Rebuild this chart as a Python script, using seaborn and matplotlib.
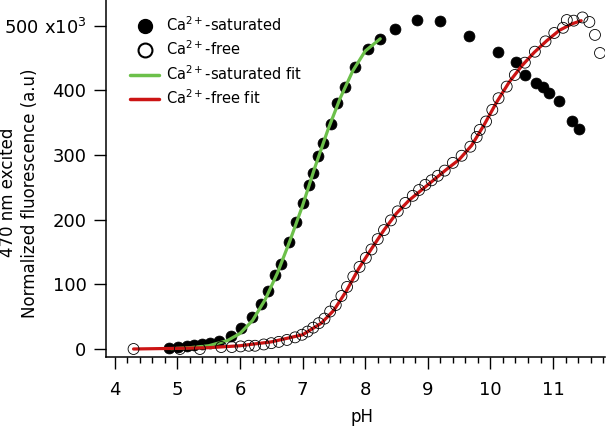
import numpy as np
import pandas as pd
import seaborn as sns
import matplotlib.pyplot as plt
from matplotlib.lines import Line2D
from matplotlib.ticker import MultipleLocator

# Ca2+-saturated measurements (pH, fluorescence x1e3)
sat_ph = [4.87, 5.01, 5.15, 5.27, 5.39, 5.52, 5.67, 5.85, 6.02, 6.19, 6.33, 6.45,
          6.56, 6.65, 6.78, 6.90, 7.01, 7.10, 7.17, 7.25, 7.33, 7.46, 7.55, 7.67,
          7.84, 8.04, 8.24, 8.47, 8.83, 9.20, 9.66, 10.12, 10.41, 10.55, 10.72,
          10.84, 10.94, 11.09, 11.30, 11.42]
sat_val = [2, 3.5, 5, 6, 8, 9, 13, 20, 32, 50, 69, 90,
           114, 131, 166, 197, 226, 254, 273, 298, 319, 348, 380, 405,
           437, 464, 480, 495, 509, 508, 484, 459, 444, 424, 412,
           405, 396, 384, 352, 340]

# Ca2+-free measurements
free_ph = [4.30, 5.04, 5.36, 5.70, 5.87, 6.01, 6.14, 6.24, 6.38, 6.50, 6.62, 6.75,
           6.88, 6.99, 7.08, 7.17, 7.26, 7.35, 7.44, 7.53, 7.62, 7.71, 7.81, 7.91,
           8.01, 8.10, 8.20, 8.30, 8.41, 8.52, 8.64, 8.76, 8.86, 8.96, 9.06, 9.16,
           9.27, 9.40, 9.54, 9.68, 9.78, 9.83, 9.93, 10.03, 10.13, 10.26, 10.39,
           10.55, 10.71, 10.88, 11.02, 11.16, 11.22, 11.33, 11.47, 11.58, 11.67, 11.75]
free_val = [0, 0, 0, 3, 3, 4, 5, 5, 7, 9, 11, 14,
            18, 22, 27, 33, 40, 47, 58, 68, 82, 96, 112, 127,
            141, 154, 170, 184, 199, 213, 226, 237, 246, 254, 261, 268,
            276, 288, 299, 313, 328, 339, 352, 370, 388, 406, 424,
            443, 460, 476, 489, 497, 509, 508, 513, 506, 486, 458]

# fit curves
sat_fit_ph = [4.90, 5.20, 5.50, 5.80, 6.00, 6.20, 6.40, 6.60, 6.80, 7.00, 7.20,
              7.40, 7.60, 7.80, 8.00, 8.24]
sat_fit_val = [0.5, 2, 5, 13, 24, 44, 76, 118, 168, 222, 282,
               338, 388, 430, 461, 480]

free_fit_ph = [4.30, 5.00, 5.50, 6.00, 6.50, 7.00, 7.30, 7.50, 7.70, 7.90, 8.10,
               8.30, 8.50, 8.70, 8.90, 9.10, 9.30, 9.50, 9.70, 9.90, 10.10, 10.30,
               10.50, 10.70, 10.90, 11.10, 11.30, 11.45]
free_fit_val = [0, 1, 2, 5, 11, 22, 40, 60, 90, 125, 155,
                184, 210, 230, 246, 262, 278, 293, 315, 347, 382, 413,
                438, 459, 477, 493, 503, 508]

green = '#6cc04a'
red = '#cc1414'

sns.set_style('ticks')
plt.rcParams['font.family'] = ['DejaVu Sans']
plt.rcParams['mathtext.default'] = 'regular'
for k in ['text.color', 'axes.labelcolor', 'xtick.color', 'ytick.color', 'axes.edgecolor']:
    plt.rcParams[k] = 'black'

fig = plt.figure(figsize=(6.1, 4.26), dpi=100)
ax = fig.add_axes([106 / 610, 69 / 426, 499 / 610, 357 / 426])

sns.lineplot(x=sat_fit_ph, y=sat_fit_val, ax=ax, color=green, lw=2.3,
             sort=False, estimator=None, zorder=2)
sns.lineplot(x=free_fit_ph, y=free_fit_val, ax=ax, color=red, lw=2.3,
             sort=False, estimator=None, zorder=2)
sns.scatterplot(x=sat_ph, y=sat_val, ax=ax, color='black', s=62,
                edgecolor='black', linewidth=0.5, zorder=1)
sns.scatterplot(x=free_ph, y=free_val, ax=ax, facecolor='none', s=62,
                edgecolor='black', linewidth=0.6, zorder=3)

ax.set_xlim(3.86, 11.83)
ax.set_ylim(-12.4, 540)
ax.xaxis.set_major_locator(MultipleLocator(1))
ax.xaxis.set_minor_locator(MultipleLocator(0.2))
ax.set_yticks([0, 100, 200, 300, 400, 500])
ax.set_yticklabels(['0', '100', '200', '300', '400', '500 x10$^3$'])
ax.tick_params(axis='x', which='major', length=8.5, width=1, pad=9, labelsize=13, direction='out')
ax.tick_params(axis='x', which='minor', length=4.3, width=1, direction='out')
ax.tick_params(axis='y', which='major', length=9, width=1, pad=5, labelsize=13, direction='out')
for s in ['left', 'bottom']:
    ax.spines[s].set_linewidth(1.1)
sns.despine(ax=ax)

ax.set_xlabel('pH', fontsize=12)
ax.xaxis.set_label_coords(0.513, -0.142)
ax.set_ylabel('470 nm excited\nNormalized fluorescence (a.u)', fontsize=12, linespacing=1.25)
ax.yaxis.set_label_coords(-0.135, 0.46)

handles = [
    Line2D([], [], ls='none', marker='o', ms=10, color='black'),
    Line2D([], [], ls='none', marker='o', ms=10, mfc='white', mec='black', mew=1.5),
    Line2D([], [], color=green, lw=2.5),
    Line2D([], [], color=red, lw=2.5),
]
labels = ['Ca$^{2+}$-saturated', 'Ca$^{2+}$-free', 'Ca$^{2+}$-saturated fit', 'Ca$^{2+}$-free fit']
fig.legend(handles, labels, loc='upper left', bbox_to_anchor=(130 / 610, 1 - 15 / 426),
           frameon=False, fontsize=10.5, handlelength=2.0, handletextpad=0.45,
           labelspacing=0.4, borderpad=0, borderaxespad=0)

fig.savefig('out.png', dpi=100)
